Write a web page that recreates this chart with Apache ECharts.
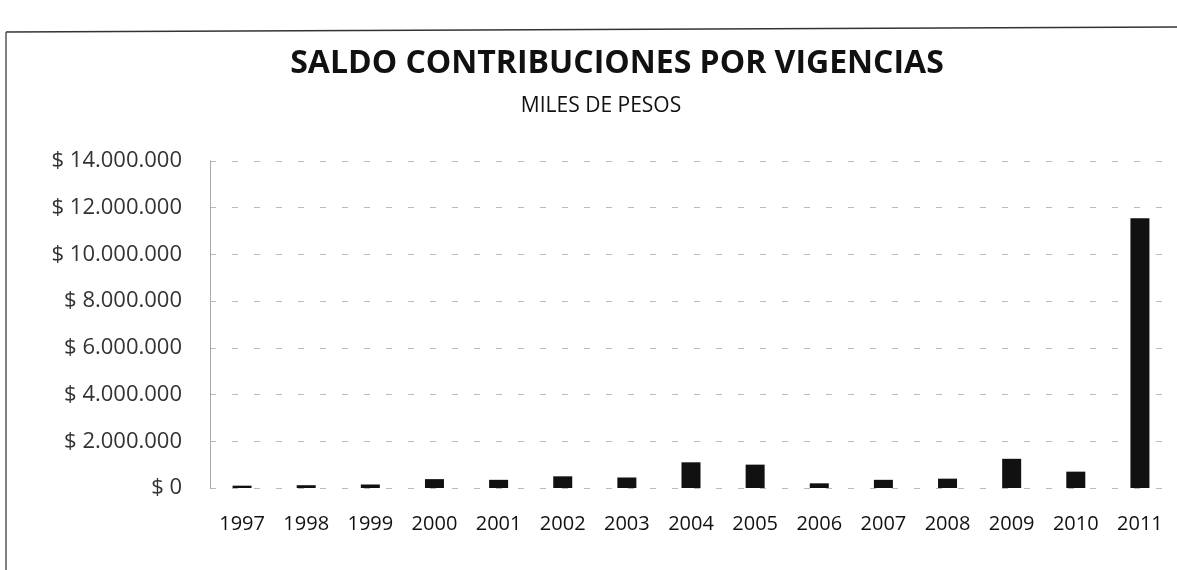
<!DOCTYPE html>
<html>
<head>
<meta charset="utf-8">
<script src="https://cdn.jsdelivr.net/npm/echarts@6/dist/echarts.min.js"></script>
<style>
html,body{margin:0;padding:0;background:#fff;}
#c{width:1177px;height:570px;}
</style>
</head>
<body>
<div id="c"></div>
<script>
const years = ['1997','1998','1999','2000','2001','2002','2003','2004','2005','2006','2007','2008','2009','2010','2011'];
const saldo = [100000, 120000, 150000, 380000, 350000, 500000, 450000, 1100000, 1000000, 200000, 350000, 400000, 1250000, 700000, 11550000];
const yTicks = [0, 2000000, 4000000, 6000000, 8000000, 10000000, 12000000, 14000000];

function fmt(v){
  return '$ ' + String(Math.round(v)).replace(/\B(?=(\d{3})+(?!\d))/g, '.');
}

const chart = echarts.init(document.getElementById('c'));
chart.setOption({
  backgroundColor: '#fff',
  animation: false,
  title: [
    {text: 'SALDO CONTRIBUCIONES POR VIGENCIAS', left: 612, top: 43, textAlign: 'center',
     textStyle: {fontFamily: 'Open Sans', fontWeight: 'bold', fontSize: 32, color: '#111'}},
    {text: 'MILES DE PESOS', left: 596, top: 91, textAlign: 'center',
     textStyle: {fontFamily: 'Open Sans', fontWeight: 'normal', fontSize: 21, color: '#111'}}
  ],
  graphic: [
    {type: 'line', shape: {x1: 6, y1: 32, x2: 1177, y2: 27}, style: {stroke: '#333', lineWidth: 1.5}},
    {type: 'line', shape: {x1: 6, y1: 32, x2: 6, y2: 570}, style: {stroke: '#555', lineWidth: 1.5}}
  ],
  grid: {left: 210, right: 5, top: 161, bottom: 82, containLabel: false},
  xAxis: {
    type: 'category',
    data: years,
    axisLine: {show: false},
    axisTick: {show: false},
    axisLabel: {margin: 26, fontFamily: 'Open Sans', fontSize: 20, color: '#111'}
  },
  yAxis: {
    type: 'value',
    min: 0, max: 14000000, interval: 2000000,
    axisLine: {show: true, lineStyle: {color: '#999', type: 'dotted', width: 1}},
    axisTick: {show: false},
    splitLine: {show: true, lineStyle: {color: '#bbb', type: [6, 16], width: 1}},
    axisLabel: {margin: 28, fontFamily: 'Open Sans', fontSize: 22, color: '#333',
      formatter: function(v){ return yTicks.indexOf(v) >= 0 ? fmt(v) : ''; }}
  },
  series: [{
    type: 'bar',
    data: saldo,
    barWidth: 19,
    itemStyle: {color: '#111'}
  }]
});
</script>
</body>
</html>
